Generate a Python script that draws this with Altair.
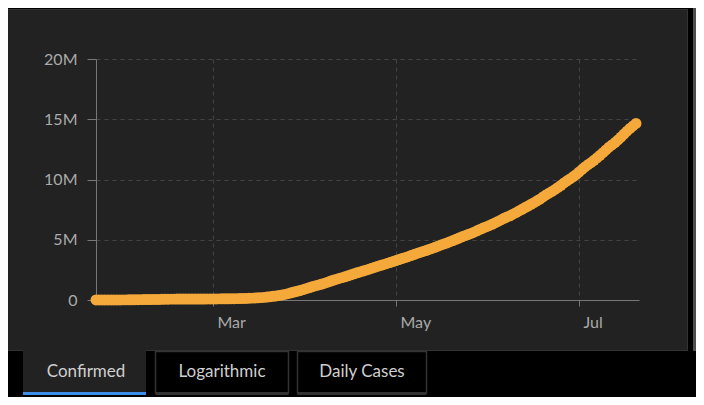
import altair as alt
import pandas as pd

# ---- data (global confirmed cases, thousands, daily from 2020-01-22) ----
start = "2020-01-22"
jan = [0.6, 0.7, 0.9, 1.4, 2.1, 2.9, 5.6, 6.2, 8.2, 9.9]
feb = [12.0, 16.8, 19.9, 23.9, 27.6, 30.8, 34.4, 37.1, 40.2, 42.8, 44.8, 45.2,
       60.4, 66.9, 69.1, 71.2, 73.3, 75.2, 75.7, 76.7, 77.0, 78.6, 78.9, 79.6,
       80.4, 81.4, 82.7, 84.1, 86.0]
mar = [88.4, 90.4, 92.9, 95.3, 98.0, 102, 106, 110, 114, 119, 126, 126, 146,
       157, 168, 183, 198, 219, 247, 276, 305, 337, 378, 418, 468, 530, 594,
       661, 721, 783, 860]
apr = [935, 1015, 1097, 1174, 1234, 1305, 1380, 1463, 1548, 1636, 1711, 1785,
       1857, 1928, 2012, 2094, 2177, 2254, 2330, 2404, 2479, 2552, 2637, 2722,
       2806, 2883, 2955, 3030, 3107, 3188]
may = [3275, 3359, 3437, 3515, 3595, 3685, 3774, 3868, 3949, 4029, 4106, 4192,
       4279, 4376, 4470, 4565, 4648, 4737, 4836, 4934, 5040, 5145, 5245, 5343,
       5432, 5525, 5629, 5740, 5861, 5970, 6070]
jun = [6170, 6280, 6400, 6520, 6650, 6780, 6890, 6990, 7120, 7250, 7390, 7530,
       7670, 7800, 7940, 8080, 8230, 8370, 8550, 8720, 8870, 9010, 9170, 9340,
       9520, 9710, 9890, 10050, 10220, 10400]
jul = [10620, 10830, 11040, 11230, 11400, 11590, 11800, 12010, 12230, 12460,
       12680, 12870, 13070, 13290, 13520, 13770, 14010, 14240, 14450, 14650]

y_ticks = [0, 5_000_000, 10_000_000, 15_000_000, 20_000_000]
x_tick_months = [3, 5, 7]
tabs = ["Confirmed", "Logarithmic", "Daily Cases"]

values = [v * 1000 for v in jan + feb + mar + apr + may + jun + jul]
dates = pd.date_range(start, periods=len(values), freq="D").strftime("%Y-%m-%d")
df = pd.DataFrame({"date": list(dates), "confirmed": values})

FONT = "Lato"
OX, OY = 96, 59  # absolute position of plot origin in the reference


def rect(x1, x2, y1, y2, **kw):
    return alt.Chart(alt.Data(values=[{}])).mark_rect(**kw).encode(
        x=alt.value(x1 - OX), x2=alt.value(x2 - OX),
        y=alt.value(y1 - OY), y2=alt.value(y2 - OY))


def label(txt, cx, cy):
    return alt.Chart(alt.Data(values=[{}])).mark_text(
        font=FONT, fontSize=17, color="#cfcfcf", align="center", baseline="middle"
    ).encode(x=alt.value(cx - OX), y=alt.value(cy - OY), text=alt.value(txt))


decor = [
    rect(-20, 720, -20, 9, color="#000000"),            # top strip
    rect(688, 720, -20, 420, color="#000000"),          # right strip
    rect(693, 720, -20, 420, color="#4f4f4f"),          # scroll bar
    rect(-20, 720, 351, 420, color="#000000"),          # under panel
    rect(4.5, 687.5, 9.5, 350.5, fillOpacity=0, stroke="#333333", strokeWidth=1),
    rect(23, 146, 349, 392, color="#222222"),           # active tab
    rect(23, 146, 392, 395, color="#3d8ee6"),           # active underline
    rect(155.5, 288.5, 351.5, 393, fill="#000000", stroke="#333333", strokeWidth=1.5),
    rect(155.5, 288.5, 392, 395, color="#333333"),
    rect(297.5, 426.5, 351.5, 393, fill="#000000", stroke="#333333", strokeWidth=1.5),
    rect(297.5, 426.5, 392, 395, color="#333333"),
    label(tabs[0], 86, 372),
    label(tabs[1], 222, 372),
    label(tabs[2], 362, 372),
]

x_vals = [alt.DateTime(year=2020, month=m, date=1, utc=True) for m in x_tick_months]

points = alt.Chart(df).mark_circle(size=120, color="#f4a93a", opacity=1).encode(
    x=alt.X("date:T",
            scale=alt.Scale(type="utc",
                            domain=[alt.DateTime(year=2020, month=1, date=22, utc=True),
                                    alt.DateTime(year=2020, month=7, date=21, utc=True)]),
            axis=alt.Axis(values=x_vals, labelExpr="utcFormat(datum.value, '%b')",
                          title=None, grid=True, gridDash=[4, 4], gridColor="#444444",
                          domainColor="#777777", tickColor="#777777", tickSize=6,
                          labelAlign="left", labelOffset=4, labelPadding=8,
                          labelFont=FONT, labelFontSize=16, labelColor="#aaaaaa")),
    y=alt.Y("confirmed:Q",
            scale=alt.Scale(domain=[0, 20_000_000], nice=False),
            axis=alt.Axis(values=y_ticks,
                          labelExpr="datum.value == 0 ? '0' : (datum.value / 1000000) + 'M'",
                          title=None, grid=True, gridDash=[4, 4], gridColor="#444444",
                          domainColor="#777777", tickColor="#777777", tickSize=9,
                          labelPadding=10, labelFont=FONT, labelFontSize=16,
                          labelColor="#aaaaaa")),
)

chart = alt.layer(*decor, points).properties(
    width=543, height=241,
    autosize=alt.AutoSizeParams(type="none"),
    padding={"left": 88, "top": 51, "right": 57, "bottom": 97},
    background="#222222",
).configure_view(stroke=None)

chart.save("out.html", embed_options={"renderer": "svg", "actions": False})
